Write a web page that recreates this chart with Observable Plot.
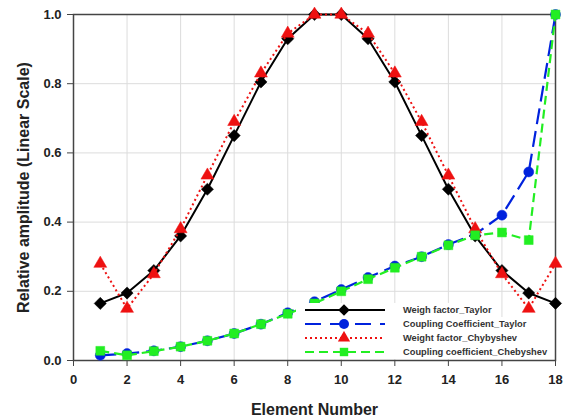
<!DOCTYPE html>
<html>
<head>
<meta charset="utf-8">
<script src="https://cdn.jsdelivr.net/npm/d3@7"></script>
<script src="https://cdn.jsdelivr.net/npm/@observablehq/plot@0.6"></script>
<style>
  html, body { margin: 0; padding: 0; background: #fff; }
  #wrap { position: relative; width: 568px; height: 419px; font-family: "Liberation Sans", Arial, sans-serif; }
  #legend { position: absolute; left: 296px; top: 302px; width: 258px; height: 56px; }
  #legend .row { position: absolute; left: 0; height: 14px; display: flex; align-items: center; background: #fff; padding-right: 4px; }
  #legend svg { display: block; flex: none; }
  #legend span { margin-left: 7px; font-size: 9.3px; font-weight: bold; color: #333; line-height: 14px; white-space: nowrap; }
</style>
</head>
<body>
<div id="wrap"></div>
<script>
const elements = d3.range(1, 19);
const weighTaylor = [0.165, 0.195, 0.26, 0.36, 0.495, 0.65, 0.805, 0.93, 1.0, 1.0, 0.93, 0.805, 0.65, 0.495, 0.36, 0.26, 0.195, 0.165];
const couplingTaylor = [0.015, 0.02, 0.028, 0.04, 0.057, 0.078, 0.105, 0.138, 0.17, 0.205, 0.24, 0.273, 0.30, 0.335, 0.365, 0.42, 0.545, 1.0];
const weightCheby = [0.28, 0.15, 0.25, 0.38, 0.535, 0.69, 0.83, 0.945, 1.0, 1.0, 0.945, 0.83, 0.69, 0.535, 0.38, 0.25, 0.15, 0.28];
const couplingCheby = [0.028, 0.015, 0.027, 0.04, 0.057, 0.078, 0.105, 0.135, 0.165, 0.2, 0.235, 0.268, 0.30, 0.333, 0.362, 0.37, 0.348, 1.0];
const xTicks = [0, 2, 4, 6, 8, 10, 12, 14, 16, 18];
const yTicks = [0, 0.2, 0.4, 0.6, 0.8, 1.0];

const series = [
  {name: "Weigh factor_Taylor", values: weighTaylor, color: "#000000", dash: null, symbol: "diamond2", r: 5.5, sw: 2},
  {name: "Coupling Coefficient_Taylor", values: couplingTaylor, color: "#0022dd", dash: "16,7", symbol: "circle", r: 5, sw: 2.2},
  {name: "Weight factor_Chybyshev", values: weightCheby, color: "#ee1111", dash: "2,3", symbol: "triangle", r: 4.8, sw: 2},
  {name: "Coupling coefficient_Chebyshev", values: couplingCheby, color: "#22ee22", dash: "9,5", symbol: "square", r: 5, sw: 2.2}
];

const marks = [
  Plot.gridX(xTicks, {stroke: "#dcdcdc", strokeOpacity: 1}),
  Plot.gridY(yTicks, {stroke: "#dcdcdc", strokeOpacity: 1}),
  Plot.frame({stroke: "#444", strokeWidth: 1.5}),
  Plot.axisX(xTicks, {tickSize: 6, tickPadding: 8, fontSize: 13, fontWeight: "bold", stroke: "#444", fill: "#222", label: null}),
  Plot.axisY(yTicks, {tickSize: 6, tickPadding: 6, fontSize: 13, fontWeight: "bold", stroke: "#444", fill: "#222", tickFormat: d3.format(".1f"), label: null})
];
for (const s of series) {
  const data = elements.map((e, i) => ({x: e, y: s.values[i]}));
  marks.push(Plot.line(data, {x: "x", y: "y", stroke: s.color, strokeWidth: s.sw, strokeDasharray: s.dash, strokeLinecap: "butt"}));
  marks.push(Plot.dot(data, {x: "x", y: "y", symbol: s.symbol, r: s.r, fill: s.color, stroke: s.color, strokeWidth: 0.5}));
}

const chart = Plot.plot({
  width: 568,
  height: 419,
  marginLeft: 73,
  marginRight: 13,
  marginTop: 14,
  marginBottom: 59,
  style: {fontFamily: "Liberation Sans, Arial, sans-serif", background: "#fff"},
  x: {domain: [0, 18]},
  y: {domain: [0, 1]},
  marks: [
    ...marks,
    Plot.text(["Element Number"], {frameAnchor: "bottom", lineAnchor: "middle", dy: 49, fontSize: 16, fontWeight: "bold", fill: "#222"}),
    Plot.text(["Relative amplitude (Linear Scale)"], {frameAnchor: "left", textAnchor: "middle", lineAnchor: "middle", dx: -50, rotate: -90, fontSize: 16, fontWeight: "bold", fill: "#222"})
  ]
});

const wrap = document.getElementById("wrap");
wrap.appendChild(chart);

// legend
const legend = document.createElement("div");
legend.id = "legend";
series.forEach((s, i) => {
  const row = document.createElement("div");
  row.className = "row";
  row.style.top = (1 + i * 14) + "px";
  const svg = d3.create("svg").attr("width", 100).attr("height", 14);
  svg.append("line").attr("x1", 9).attr("x2", 89).attr("y1", 7).attr("y2", 7)
    .attr("stroke", s.color).attr("stroke-width", s.sw)
    .attr("stroke-dasharray", s.dash === null ? null : (s.dash === "16,7" ? "16,9" : s.dash));
  const sym = d3.symbol(
    {diamond2: d3.symbolDiamond2, circle: d3.symbolCircle, triangle: d3.symbolTriangle, square: d3.symbolSquare}[s.symbol],
    Math.PI * s.r * s.r * (s.symbol === "circle" ? 1 : 0.9)
  );
  svg.append("path").attr("d", sym()).attr("transform", "translate(48,7)").attr("fill", s.color);
  row.appendChild(svg.node());
  const t = document.createElement("span");
  t.textContent = s.name;
  row.appendChild(t);
  legend.appendChild(row);
});
wrap.appendChild(legend);
</script>
</body>
</html>
